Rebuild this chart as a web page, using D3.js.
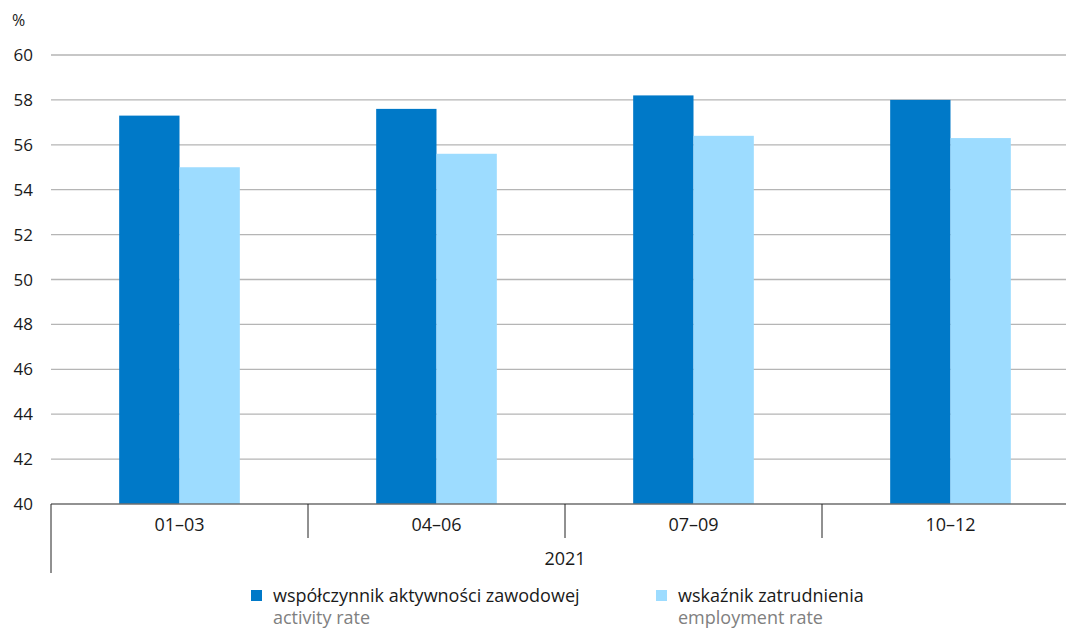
<!DOCTYPE html>
<html lang='pl'>
	<head>
		<meta charset='utf-8'>
		<title>Aktywność zawodowa 2021</title>
		<script type='text/javascript' src='https://d3js.org/d3.v7.min.js'></script>
		<style type='text/css'>
			body { margin: 0; background: #fff; }
			svg text { font-family: 'Open Sans', sans-serif; fill: #1a1a1a; }
		</style>
	</head>
	<body>
		<script type='text/javascript'>
			// data
			var quarters = ['01–03', '04–06', '07–09', '10–12'];
			var year = '2021';
			var activityRate = [57.3, 57.6, 58.2, 58.0];
			var employmentRate = [55.0, 55.6, 56.4, 56.3];
			var yTicks = [40, 42, 44, 46, 48, 50, 52, 54, 56, 58, 60];
			var seriesNames = ['współczynnik aktywności zawodowej', 'wskaźnik zatrudnienia'];
			var seriesNamesEn = ['activity rate', 'employment rate'];
			var colors = ['#0079c8', '#9ddcff'];

			var w = 1066;
			var h = 630;
			var x0 = 51, x1 = 1079;
			var yTop = 55, yBottom = 504;

			var svg = d3.select('body')
				.append('svg')
				.attr('width', w)
				.attr('height', h);

			var xScale = d3.scaleBand()
				.domain(quarters)
				.range([x0, x1])
				.paddingInner(0)
				.paddingOuter(0);

			// two bars per quarter, ~60px each, centred in the band
			var xInner = d3.scaleBand()
				.domain([0, 1])
				.range([0, xScale.bandwidth()])
				.paddingInner(0)
				.paddingOuter(1.13);

			var yScale = d3.scaleLinear()
				.domain([40, 60])
				.range([yBottom, yTop]);

			// gridlines
			svg.append('g')
				.selectAll('line')
				.data(yTicks.slice(1))
				.enter()
				.append('line')
				.attr('x1', x0)
				.attr('x2', w)
				.attr('y1', function(d) { return yScale(d); })
				.attr('y2', function(d) { return yScale(d); })
				.attr('stroke', '#b5b5b5')
				.attr('stroke-width', 1.3);

			// y labels
			svg.append('g')
				.selectAll('text')
				.data(yTicks)
				.enter()
				.append('text')
				.attr('x', 33)
				.attr('y', function(d) { return yScale(d) + 6; })
				.attr('text-anchor', 'end')
				.style('font-size', '17px')
				.text(function(d) { return d; });

			svg.append('text')
				.attr('x', 12)
				.attr('y', 26)
				.style('font-size', '16px')
				.text('%');

			// bars
			var rows = quarters.map(function(q, i) {
				return { q: q, values: [activityRate[i], employmentRate[i]] };
			});

			var groups = svg.selectAll('g.group')
				.data(rows)
				.enter()
				.append('g')
				.attr('class', 'group')
				.attr('transform', function(d) { return 'translate(' + xScale(d.q) + ',0)'; });

			groups.selectAll('rect')
				.data(function(d) { return d.values; })
				.enter()
				.append('rect')
				.attr('x', function(d, i) { return xInner(i); })
				.attr('y', function(d) { return yScale(d); })
				.attr('width', xInner.bandwidth())
				.attr('height', function(d) { return yScale(40) - yScale(d); })
				.attr('fill', function(d, i) { return colors[i]; });

			// baseline
			svg.append('line')
				.attr('x1', x0).attr('x2', w)
				.attr('y1', yBottom).attr('y2', yBottom)
				.attr('stroke', '#6e6e6e')
				.attr('stroke-width', 1.5);

			// category separators
			svg.append('g')
				.selectAll('line')
				.data(quarters.slice(1))
				.enter()
				.append('line')
				.attr('x1', function(d) { return xScale(d); })
				.attr('x2', function(d) { return xScale(d); })
				.attr('y1', yBottom)
				.attr('y2', yBottom + 34)
				.attr('stroke', '#222')
				.attr('stroke-width', 1);

			svg.append('line')
				.attr('x1', x0).attr('x2', x0)
				.attr('y1', yBottom).attr('y2', yBottom + 69)
				.attr('stroke', '#222')
				.attr('stroke-width', 1);

			// x labels
			svg.append('g')
				.selectAll('text')
				.data(quarters)
				.enter()
				.append('text')
				.attr('x', function(d) { return xScale(d) + xScale.bandwidth() / 2; })
				.attr('y', yBottom + 27)
				.attr('text-anchor', 'middle')
				.style('font-size', '18px')
				.text(function(d) { return d; });

			svg.append('text')
				.attr('x', (x0 + x1) / 2)
				.attr('y', yBottom + 61)
				.attr('text-anchor', 'middle')
				.style('font-size', '18px')
				.text(year);

			// legend
			var legendX = [251, 656];
			var legend = svg.selectAll('g.legend')
				.data(seriesNames)
				.enter()
				.append('g')
				.attr('class', 'legend')
				.attr('transform', function(d, i) { return 'translate(' + legendX[i] + ',0)'; });

			legend.append('rect')
				.attr('x', 0)
				.attr('y', 590)
				.attr('width', 11)
				.attr('height', 11)
				.attr('fill', function(d, i) { return colors[i]; });

			legend.append('text')
				.attr('x', 22)
				.attr('y', 602)
				.style('font-size', '18px')
				.text(function(d) { return d; });

			legend.append('text')
				.attr('x', 22)
				.attr('y', 624)
				.style('font-size', '18px')
				.style('fill', '#808080')
				.text(function(d, i) { return seriesNamesEn[i]; });
		</script>
	</body>
</html>
